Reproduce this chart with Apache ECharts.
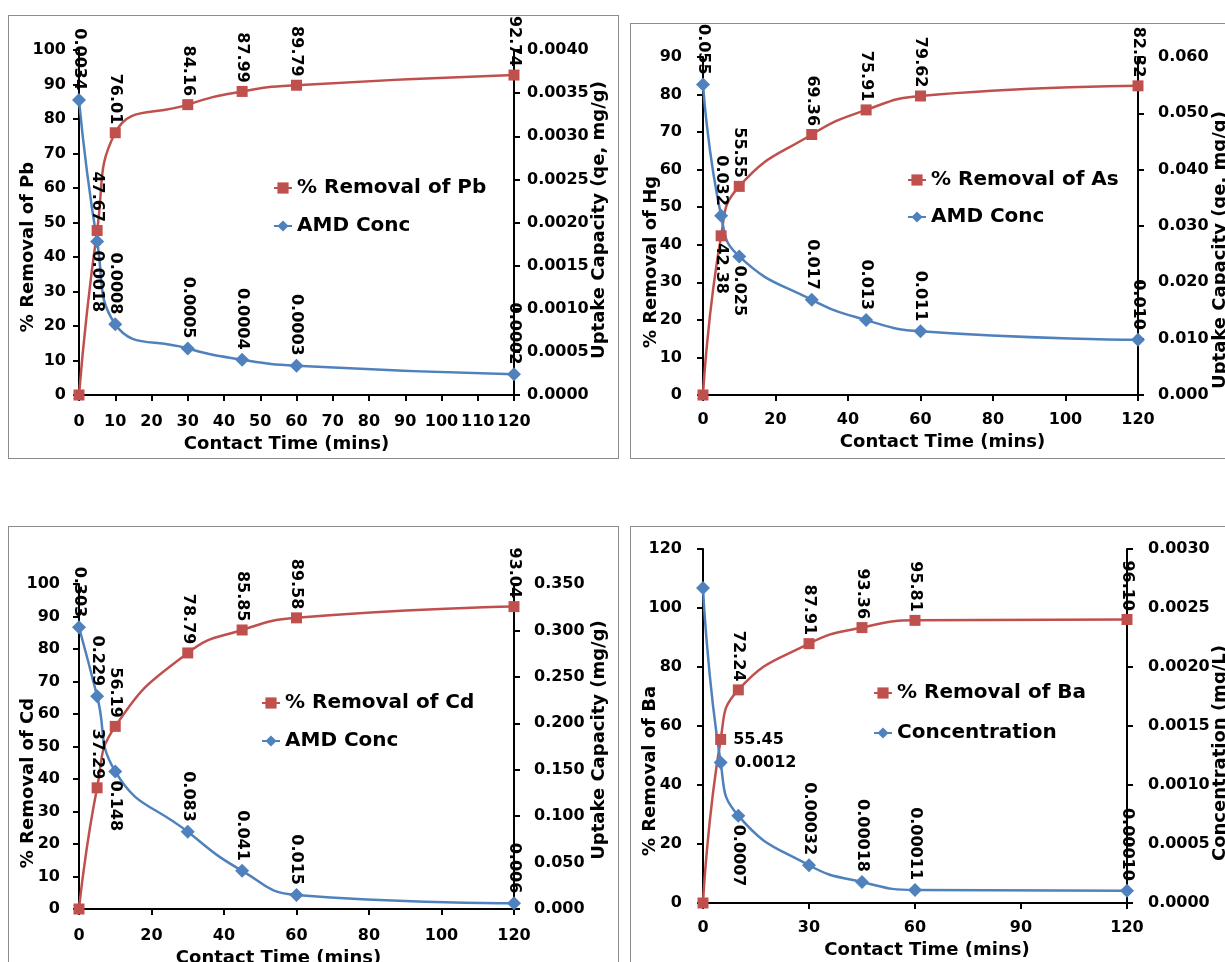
<!DOCTYPE html>
<html>
<head>
<meta charset="utf-8">
<title>Removal vs contact time</title>
<script src="https://cdn.jsdelivr.net/npm/echarts@6/dist/echarts.min.js"></script>
<style>
  html, body { margin: 0; padding: 0; width: 1225px; height: 962px; overflow: hidden; background: #fff; }
  .panel { position: absolute; border: 1px solid #8c8c8c; box-sizing: border-box; }
  #pb { left: 8px; top: 15px; width: 611px; height: 444px; }
  #hg { left: 630px; top: 23px; width: 640px; height: 436px; }
  #cd { left: 8px; top: 526px; width: 611px; height: 480px; }
  #ba { left: 630px; top: 526px; width: 640px; height: 480px; }
</style>
</head>
<body>
<div id="pb" class="panel"></div>
<div id="hg" class="panel"></div>
<div id="cd" class="panel"></div>
<div id="ba" class="panel"></div>
<script>
// contact time (mins), shared by all four panels
const time = [0, 5, 10, 30, 45, 60, 120];

const pbRemoval = [0, 47.67, 76.01, 84.16, 87.99, 89.79, 92.74];
const pbConc = [0.00342, 0.00178, 0.00082, 0.00054, 0.00041, 0.00034, 0.00024];

const hgRemoval = [0, 42.38, 55.55, 69.36, 75.91, 79.62, 82.32];
const hgConc = [0.0551, 0.0318, 0.0246, 0.0169, 0.0133, 0.0113, 0.0098];

const cdRemoval = [0, 37.29, 56.19, 78.79, 85.85, 89.58, 93.04];
const cdConc = [0.3034, 0.2292, 0.1481, 0.0831, 0.0411, 0.0151, 0.0061];

const baRemoval = [0, 55.45, 72.24, 87.91, 93.36, 95.81, 96.10];
const baConc = [0.00267, 0.00119, 0.00074, 0.00032, 0.000178, 0.00011, 0.000103];

const RED = '#C0504D';
const BLUE = '#4F81BD';
const FONT = 'DejaVu Sans';

function labelAt(pos, text) {
  const base = { show: true, formatter: text, color: '#000', fontFamily: FONT, fontWeight: 'bold', fontSize: 16 };
  if (pos === 'none') return { show: false };
  if (pos === 'top') return Object.assign(base, { position: 'top', rotate: -90, align: 'right', verticalAlign: 'middle', distance: 3 });
  if (pos === 'bottom') return Object.assign(base, { position: 'bottom', rotate: -90, align: 'left', verticalAlign: 'middle', distance: 2 });
  return Object.assign(base, { position: 'right', rotate: 0, align: 'left', verticalAlign: 'middle', distance: 7 });
}

function points(ys, fmt, place) {
  return time.map((x, i) => ({ value: [x, ys[i]], label: labelAt(place[i], fmt(ys[i])) }));
}

function axisText(size) {
  return { color: '#000', fontFamily: FONT, fontWeight: 'bold', fontSize: size };
}

// vertical axis title, centred on (x, y), reading bottom to top
function sideTitle(text, at) {
  return {
    type: 'text', x: at[0], y: at[1], rotation: Math.PI / 2,
    style: {
      text: text, fill: '#000', font: 'bold 18px "' + FONT + '"',
      textAlign: 'center', textVerticalAlign: 'middle'
    }
  };
}

const axisLine = { show: true, lineStyle: { color: '#000', width: 2 } };
const axisTick = { show: true, length: 6, lineStyle: { color: '#000', width: 2 } };

function drawPanel(id, p) {
  const chart = echarts.init(document.getElementById(id), null, { renderer: 'canvas' });
  chart.setOption({
    animation: false,
    grid: {
      left: p.grid[0], top: p.grid[1], width: p.grid[2], height: p.grid[3],
      containLabel: false, outerBoundsMode: 'none'
    },
    legend: {
      orient: 'vertical',
      left: p.legend[0], top: p.legend[1], itemGap: p.legend[2],
      itemWidth: 18, itemHeight: 14,
      textStyle: { color: '#000', fontFamily: FONT, fontWeight: 'bold', fontSize: 20, lineHeight: 24 },
      data: [p.redName, p.blueName]
    },
    graphic: [sideTitle(p.leftName, p.leftTitle), sideTitle(p.rightName, p.rightTitle)],
    xAxis: {
      type: 'value', min: 0, max: 120, interval: p.xStep,
      name: 'Contact Time (mins)', nameLocation: 'middle', nameGap: p.xName[0],
      nameTextStyle: Object.assign(axisText(18), { padding: p.xName[1] }),
      axisLine: axisLine, axisTick: axisTick, splitLine: { show: false },
      axisLabel: Object.assign(axisText(16), { margin: p.xMargin })
    },
    yAxis: [
      {
        type: 'value', position: 'left', min: 0, max: p.leftMax, interval: p.leftStep,
        axisLine: axisLine, axisTick: axisTick, splitLine: { show: false },
        axisLabel: Object.assign(axisText(16), { margin: p.leftMargin })
      },
      {
        type: 'value', position: 'right', min: 0, max: p.rightMax, interval: p.rightStep,
        axisLine: axisLine, axisTick: axisTick, splitLine: { show: false },
        axisLabel: Object.assign(axisText(16), { margin: p.rightMargin, formatter: v => v.toFixed(p.rightDec) })
      }
    ],
    series: [
      {
        name: p.redName, type: 'line', yAxisIndex: 0, smooth: true,
        symbol: 'rect', symbolSize: 11,
        itemStyle: { color: RED }, lineStyle: { color: RED, width: 2.5 },
        data: points(p.red, v => v.toFixed(2), p.redPlace)
      },
      {
        name: p.blueName, type: 'line', yAxisIndex: 1, smooth: true,
        symbol: 'diamond', symbolSize: 14,
        itemStyle: { color: BLUE }, lineStyle: { color: BLUE, width: 2.5 },
        data: points(p.blue, p.blueFmt, p.bluePlace)
      }
    ]
  });
}

const T = 'top', B = 'bottom', R = 'right', N = 'none';

drawPanel('pb', {
  grid: [70, 34, 435, 345], legend: [259, 155, 14], xStep: 10,
  xName: [35, [0, 20, 0, 0]], xMargin: 19,
  leftName: '% Removal of Pb', leftMax: 100, leftStep: 10, leftTitle: [19, 231], leftMargin: 13,
  rightName: 'Uptake Capacity (qe, mg/g)', rightMax: 0.004, rightStep: 0.0005, rightDec: 4, rightTitle: [590, 204], rightMargin: 13,
  redName: '% Removal of Pb', blueName: 'AMD Conc',
  red: pbRemoval, blue: pbConc, blueFmt: v => v.toFixed(4),
  redPlace: [N, T, T, T, T, T, T], bluePlace: [T, B, T, T, T, T, T]
});

drawPanel('hg', {
  grid: [72, 33, 435, 338], legend: [271, 139, 13], xStep: 20,
  xName: [35, [0, 0, 0, 44]], xMargin: 17,
  leftName: '% Removal of Hg', leftMax: 90, leftStep: 10, leftTitle: [20, 238], leftMargin: 21,
  rightName: 'Uptake Capacity (qe, mg/g)', rightMax: 0.06, rightStep: 0.01, rightDec: 3, rightTitle: [589, 226], rightMargin: 20,
  redName: '% Removal of As', blueName: 'AMD Conc',
  red: hgRemoval, blue: hgConc, blueFmt: v => v.toFixed(3),
  redPlace: [N, B, T, T, T, T, T], bluePlace: [T, T, B, T, T, T, T]
});

drawPanel('cd', {
  grid: [70, 57, 435, 325], legend: [247, 159, 14], xStep: 20,
  xName: [33, [0, 36, 0, 0]], xMargin: 19,
  leftName: '% Removal of Cd', leftMax: 100, leftStep: 10, leftTitle: [19, 256], leftMargin: 19,
  rightName: 'Uptake Capacity (mg/g)', rightMax: 0.35, rightStep: 0.05, rightDec: 3, rightTitle: [590, 213], rightMargin: 20,
  redName: '% Removal of Cd', blueName: 'AMD Conc',
  red: cdRemoval, blue: cdConc, blueFmt: v => v.toFixed(3),
  redPlace: [N, T, T, T, T, T, T], bluePlace: [T, T, B, T, T, T, T]
});

drawPanel('ba', {
  grid: [72, 22, 424, 354], legend: [237, 149, 16], xStep: 30,
  xName: [37, [0, 0, 0, 24]], xMargin: 17,
  leftName: '% Removal of Ba', leftMax: 120, leftStep: 20, leftTitle: [19, 244], leftMargin: 21,
  rightName: 'Concentration (mg/L)', rightMax: 0.003, rightStep: 0.0005, rightDec: 4, rightTitle: [589, 226], rightMargin: 21,
  redName: '% Removal of Ba', blueName: 'Concentration',
  red: baRemoval, blue: baConc, blueFmt: v => (v >= 0.0005 ? v.toFixed(4) : v.toFixed(5)),
  redPlace: [N, R, T, T, T, T, T], bluePlace: [N, R, B, T, T, T, T]
});
</script>
</body>
</html>
